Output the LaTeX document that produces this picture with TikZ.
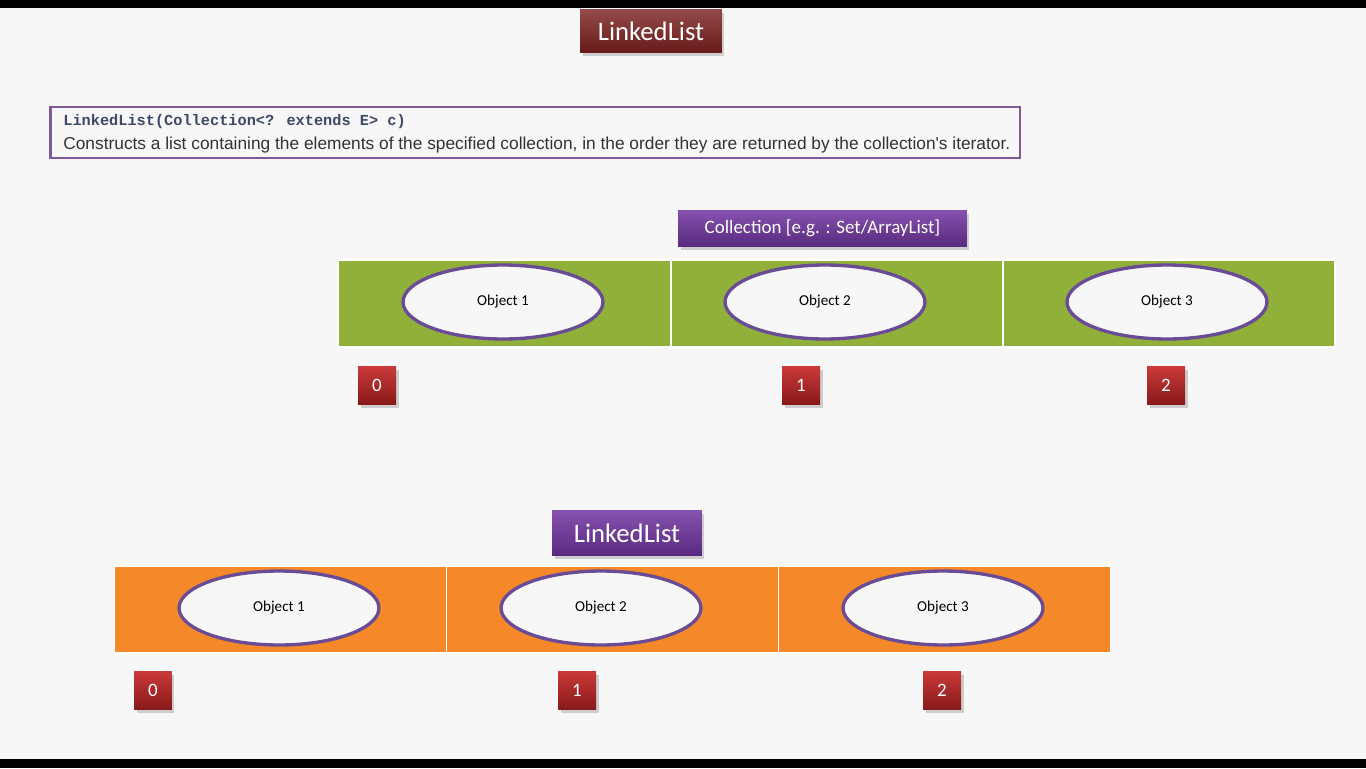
\documentclass[tikz,border=0pt]{standalone}
\usepackage{fontspec}
\setmainfont{Carlito}
\newfontfamily\arialfont{Liberation Sans}
\newfontfamily\codefont{Liberation Mono}
\usetikzlibrary{shapes.geometric,shadows}
\definecolor{bgwhite}{RGB}{247,247,247}
\definecolor{titlered}{RGB}{122,30,30}
\definecolor{labelpurple}{RGB}{112,52,160}
\definecolor{boxpurple}{RGB}{126,90,155}
\definecolor{ringpurple}{RGB}{106,76,150}
\definecolor{cellgreen}{RGB}{145,176,58}
\definecolor{cellorange}{RGB}{245,137,42}
\definecolor{idxred}{RGB}{196,36,36}
\definecolor{codeblue}{RGB}{62,72,104}

\begin{document}
\begin{tikzpicture}[x=.02cm,y=-.02cm,
tag/.style={rectangle,text=white,inner sep=0pt,drop shadow={opacity=.35,shadow xshift=.05cm,shadow yshift=-.07cm}},
cell/.style={rectangle,draw=white,line width=1pt,minimum width=6.64cm,minimum height=1.74cm,inner sep=0pt},
obj/.style={ellipse,draw=ringpurple,line width=1.9pt,fill=bgwhite,minimum width=4cm,minimum height=1.48cm,inner sep=0pt,font=\fontsize{8.6}{10}\selectfont},
idx/.style={tag,top color=idxred!90!white,bottom color=idxred!70!black,minimum size=.76cm,font=\fontsize{10.8}{12}\selectfont}]

% frame
\fill[bgwhite](0,0)rectangle(1366,768);
\fill[black](0,0)rectangle(1366,8);\fill[black](0,759)rectangle(1366,768);

% heading and constructor signature
\node[tag,top color=titlered!80!white,bottom color=titlered!85!black,minimum width=2.84cm,minimum height=.88cm,font=\fontsize{15.2}{18}\selectfont](title)at(651,31){LinkedList};
\node[rectangle,draw=boxpurple,line width=1.6pt,fill=bgwhite,minimum width=19.4cm,minimum height=1.02cm](sig)at(535,132.5){};
\node[anchor=base west,inner sep=0pt,text=codeblue,font=\codefont\bfseries\fontsize{8.7}{10}\selectfont](sigcode)at(63,125){LinkedList(Collection<? extends E> c)};
\node[anchor=base west,inner sep=0pt,text=black!80,font=\arialfont\fontsize{9.86}{11}\selectfont](sigtext)at(63,149){Constructs a list containing the elements of the specified collection, in the order they are returned by the collection's iterator.};

% source collection
\node[tag,top color=labelpurple!85!white,bottom color=labelpurple!80!black,minimum width=5.78cm,minimum height=.72cm,font=\fontsize{10.8}{12}\selectfont](coll)at(822.5,228){Collection [e.g. : Set/ArrayList]};
\node[cell,fill=cellgreen](c1)at(504.5,303.5){};\node[cell,fill=cellgreen](c2)at(837,303.5){};\node[cell,fill=cellgreen](c3)at(1169,303.5){};
\node[obj](co1)at(503,302){Object 1};\node[obj](co2)at(825,302){Object 2};\node[obj](co3)at(1167,302){Object 3};
\node[idx](ci0)at(377,385){0};\node[idx](ci1)at(801,385){1};\node[idx](ci2)at(1166,385){2};

% resulting linked list
\node[tag,top color=labelpurple!85!white,bottom color=labelpurple!80!black,minimum width=3cm,minimum height=.9cm,font=\fontsize{15.2}{18}\selectfont](list)at(627,533){LinkedList};
\node[cell,fill=cellorange](l1)at(280.5,609.5){};\node[cell,fill=cellorange](l2)at(612.5,609.5){};\node[cell,fill=cellorange](l3)at(944.5,609.5){};
\node[obj](lo1)at(279,608){Object 1};\node[obj](lo2)at(601,608){Object 2};\node[obj](lo3)at(943,608){Object 3};
\node[idx](li0)at(153,690){0};\node[idx](li1)at(577,690){1};\node[idx](li2)at(942,690){2};
\end{tikzpicture}
\end{document}
